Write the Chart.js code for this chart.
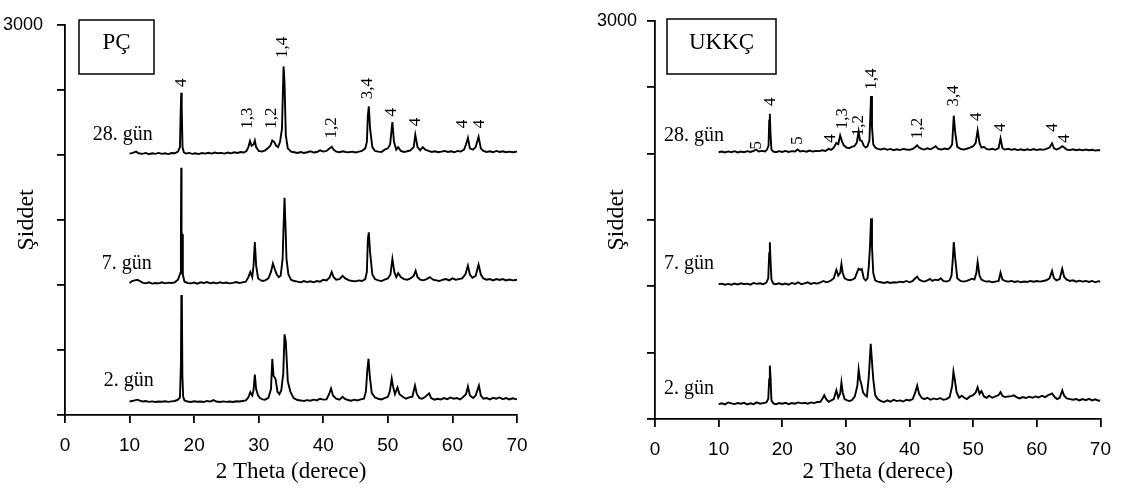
<!DOCTYPE html>
<html><head><meta charset="utf-8">
<script src="https://cdn.jsdelivr.net/npm/chart.js@4.4.1/dist/chart.umd.min.js"></script>
<style>
html,body{margin:0;padding:0;background:#fff;}
#wrap{position:relative;width:1122px;height:493px;overflow:hidden;}
canvas{position:absolute;top:0;}
#c1{left:0}
#c2{left:561px}
</style></head><body>
<div id="wrap"><canvas id="c1" width="561" height="493"></canvas><canvas id="c2" width="561" height="493"></canvas></div>
<script>
// ---- axis & labels ----
const xMin = 0, xMax = 70, xStep = 10;
const yMin = 0, yMax = 3000, yStep = 500;
const yLabelled = [3000];
const xTitle = '2 Theta (derece)';
const yTitle = 'Şiddet';
const panelNames = ['PÇ', 'UKKÇ'];
const dayNames = ['2. gün', '7. gün', '28. gün'];

// ---- PÇ traces [2θ, intensity] ----
const pc2 = [[10,104],[10.4,108],[10.8,112],[11.2,118],[11.6,110],[12,104],[12.5,107],[13,101],[13.5,105],[14,100],[14.5,104],[15,102],[15.5,106],[16,101],[16.5,105],[17,108],[17.5,118],[17.8,135],[17.95,380],[18.02,922],[18.1,880],[18.18,300],[18.3,140],[18.5,112],[19,104],[19.5,100],[20,106],[20.5,102],[21,104],[21.5,100],[22,108],[22.5,103],[23,115],[23.4,104],[24,100],[24.5,105],[25,101],[25.5,104],[26,100],[26.5,106],[27,104],[27.5,108],[28,112],[28.4,135],[28.7,175],[29,150],[29.2,190],[29.4,310],[29.6,200],[29.9,150],[30.2,130],[30.6,120],[31,118],[31.5,132],[31.9,200],[32.1,431],[32.3,300],[32.6,280],[32.9,180],[33.2,160],[33.5,190],[33.8,320],[34.0,620],[34.2,560],[34.5,260],[34.9,180],[35.4,130],[36,115],[36.5,112],[37,108],[37.5,114],[38,110],[38.5,118],[39,112],[39.5,125],[40,118],[40.5,120],[40.9,160],[41.2,204],[41.5,150],[42,125],[42.5,118],[43,140],[43.3,125],[43.8,115],[44.3,110],[44.8,118],[45.3,112],[45.8,120],[46.3,125],[46.6,180],[46.8,333],[47.0,431],[47.2,300],[47.5,170],[48,135],[48.5,125],[49,120],[49.5,130],[50,140],[50.3,180],[50.6,280],[50.8,220],[51.1,160],[51.5,212],[51.8,160],[52.3,140],[52.8,125],[53.3,135],[53.8,140],[54.2,227],[54.5,160],[54.9,130],[55.3,125],[55.8,140],[56.4,166],[56.7,130],[57.2,118],[57.7,125],[58.2,120],[58.7,130],[59.2,122],[59.7,135],[60.2,125],[60.7,130],[61.2,120],[61.7,140],[62.1,160],[62.4,219],[62.7,150],[63.2,130],[63.6,150],[64.1,227],[64.4,150],[64.8,125],[65.3,130],[65.8,120],[66.3,132],[66.8,125],[67.3,135],[67.8,122],[68.3,130],[68.8,120],[69.3,128],[70,120]];
const pc7 = [[10,1015],[10.4,1030],[10.8,1035],[11.2,1040],[11.6,1030],[12,1018],[12.5,1012],[13,1020],[13.5,1010],[14,1015],[14.5,1012],[15,1020],[15.5,1012],[16,1018],[16.5,1015],[17,1020],[17.5,1040],[17.85,1090],[17.95,1400],[18.0,1900],[18.05,1400],[18.15,1390],[18.25,1080],[18.5,1025],[19,1015],[19.5,1012],[20,1018],[20.5,1010],[21,1020],[21.5,1015],[22,1022],[22.5,1012],[23,1018],[23.5,1012],[24,1020],[24.5,1014],[25,1018],[25.5,1012],[26,1016],[26.5,1022],[27,1015],[27.5,1020],[28,1025],[28.4,1060],[28.7,1100],[29,1060],[29.2,1150],[29.4,1330],[29.6,1150],[29.9,1050],[30.2,1040],[30.6,1030],[31,1035],[31.5,1050],[31.9,1100],[32.2,1165],[32.5,1120],[32.8,1080],[33.1,1060],[33.4,1070],[33.7,1200],[33.85,1450],[34.0,1670],[34.15,1450],[34.3,1200],[34.6,1080],[35,1040],[35.5,1030],[36,1025],[36.5,1020],[37,1030],[37.5,1022],[38,1028],[38.5,1020],[39,1030],[39.5,1025],[40,1040],[40.5,1035],[41,1060],[41.3,1100],[41.6,1060],[42,1040],[42.5,1045],[43,1070],[43.4,1050],[44,1035],[44.5,1030],[45,1028],[45.5,1035],[46,1030],[46.5,1045],[46.75,1100],[46.9,1350],[47.05,1405],[47.25,1250],[47.6,1080],[48,1045],[48.5,1035],[49,1030],[49.5,1040],[50,1050],[50.4,1080],[50.7,1200],[51,1100],[51.3,1060],[51.6,1090],[52,1060],[52.5,1045],[53,1040],[53.5,1050],[54,1070],[54.3,1110],[54.6,1060],[55,1040],[55.5,1035],[56,1045],[56.5,1060],[57,1040],[57.5,1035],[58,1030],[58.5,1040],[59,1045],[59.5,1035],[60,1050],[60.5,1040],[61,1045],[61.5,1050],[62,1080],[62.4,1149],[62.7,1080],[63.1,1055],[63.6,1070],[64.05,1157],[64.4,1080],[64.8,1050],[65.3,1040],[65.8,1045],[66.3,1035],[66.8,1045],[67.3,1038],[67.8,1045],[68.3,1035],[68.8,1042],[69.4,1035],[70,1040]];
const pc28 = [[10,2010],[10.5,2015],[11,2025],[11.4,2012],[12,2008],[12.5,2015],[13,2005],[13.5,2012],[14,2008],[14.5,2015],[15,2008],[15.5,2012],[16,2006],[16.5,2014],[17,2012],[17.5,2025],[17.8,2060],[17.92,2340],[18.0,2478],[18.08,2350],[18.2,2060],[18.4,2020],[18.7,2010],[19.2,2015],[19.7,2008],[20.2,2012],[20.7,2006],[21.2,2014],[21.7,2010],[22.2,2016],[22.7,2010],[23.2,2018],[23.7,2012],[24.2,2015],[24.7,2010],[25.2,2018],[25.7,2012],[26.2,2020],[26.7,2015],[27.2,2022],[27.7,2018],[28.1,2030],[28.4,2060],[28.65,2106],[28.9,2070],[29.2,2080],[29.4,2110],[29.6,2060],[30,2030],[30.5,2025],[31,2035],[31.4,2050],[31.8,2070],[32.1,2110],[32.4,2100],[32.7,2070],[33.0,2060],[33.3,2100],[33.6,2200],[33.85,2680],[34.0,2550],[34.2,2150],[34.5,2050],[35,2025],[35.5,2020],[36,2015],[36.5,2022],[37,2015],[37.5,2020],[38,2028],[38.5,2018],[39,2022],[39.5,2035],[40,2025],[40.5,2030],[41,2050],[41.3,2063],[41.6,2040],[42,2025],[42.5,2020],[43,2028],[43.5,2022],[44,2020],[44.5,2025],[45,2018],[45.5,2025],[46,2030],[46.5,2050],[46.75,2100],[46.9,2300],[47.05,2373],[47.25,2200],[47.6,2060],[48,2030],[48.5,2025],[49,2022],[49.5,2040],[50,2050],[50.35,2080],[50.7,2252],[50.95,2100],[51.3,2040],[51.6,2060],[52,2030],[52.5,2022],[53,2028],[53.5,2035],[54,2060],[54.25,2154],[54.6,2060],[55,2035],[55.4,2060],[55.8,2040],[56.3,2030],[56.8,2022],[57.3,2028],[57.8,2020],[58.3,2025],[58.8,2030],[59.3,2022],[59.8,2028],[60.3,2020],[60.8,2030],[61.3,2025],[61.8,2040],[62.1,2080],[62.4,2131],[62.7,2050],[63.2,2040],[63.6,2060],[64.05,2138],[64.4,2050],[64.8,2030],[65.3,2022],[65.8,2028],[66.3,2020],[66.8,2030],[67.3,2022],[67.8,2028],[68.3,2020],[68.8,2025],[69.4,2020],[70,2025]];

// ---- UKKÇ traces [2θ, intensity] ----
const uk2 = [[10,112],[10.5,118],[11,110],[11.5,125],[12,118],[12.5,112],[13,120],[13.5,115],[14,122],[14.5,110],[15,118],[15.5,112],[16,125],[16.5,115],[17,120],[17.5,125],[17.8,150],[17.95,300],[18.05,402],[18.15,320],[18.3,140],[18.6,118],[19,112],[19.5,120],[20,115],[20.5,122],[21,112],[21.5,120],[22,115],[22.5,125],[23,118],[23.5,122],[24,115],[24.5,125],[25,120],[25.5,128],[26,130],[26.4,160],[26.6,179],[26.9,150],[27.3,130],[27.7,140],[28.1,150],[28.5,216],[28.8,160],[29.1,190],[29.3,276],[29.5,200],[29.8,150],[30.2,140],[30.6,135],[31,145],[31.4,170],[31.8,250],[32.0,372],[32.2,300],[32.4,268],[32.7,200],[33,180],[33.3,170],[33.6,320],[33.9,567],[34.1,430],[34.3,300],[34.6,180],[35,150],[35.5,135],[36,128],[36.5,140],[37,130],[37.5,145],[38,135],[38.5,140],[39,132],[39.5,145],[40,140],[40.5,150],[40.9,200],[41.2,252],[41.5,190],[41.9,160],[42.3,150],[42.8,160],[43.3,145],[43.8,155],[44.3,148],[44.8,158],[45.3,145],[45.8,150],[46.3,165],[46.7,250],[46.9,357],[47.1,300],[47.4,200],[47.8,160],[48.2,175],[48.6,160],[49.0,150],[49.5,170],[50,180],[50.4,200],[50.7,239],[51,190],[51.3,210],[51.7,170],[52.1,160],[52.5,175],[53,160],[53.5,170],[54,180],[54.3,202],[54.6,175],[55,165],[55.5,170],[56,172],[56.4,179],[56.8,165],[57.3,155],[57.8,165],[58.3,158],[58.8,168],[59.3,160],[59.8,170],[60.3,162],[60.8,175],[61.3,165],[61.8,180],[62.1,185],[62.4,192],[62.8,165],[63.2,150],[63.6,160],[64.0,216],[64.3,175],[64.7,155],[65.2,150],[65.7,145],[66.2,150],[66.7,140],[67.2,150],[67.7,142],[68.2,152],[68.7,140],[69.2,148],[69.7,138],[70,140]];
const uk7 = [[10,1015],[10.5,1020],[11,1012],[11.5,1018],[12,1012],[12.5,1020],[13,1014],[13.5,1022],[14,1015],[14.5,1020],[15,1012],[15.5,1025],[16,1018],[16.5,1022],[17,1015],[17.5,1028],[17.8,1060],[17.95,1250],[18.05,1332],[18.15,1200],[18.3,1050],[18.6,1020],[19,1015],[19.5,1022],[20,1014],[20.5,1020],[21,1012],[21.5,1025],[22,1018],[22.5,1030],[23,1015],[23.5,1022],[24,1030],[24.5,1018],[25,1025],[25.5,1020],[26,1030],[26.5,1040],[26.9,1030],[27.3,1035],[27.7,1045],[28.1,1060],[28.5,1124],[28.8,1080],[29.1,1100],[29.3,1168],[29.5,1100],[29.8,1060],[30.2,1050],[30.6,1045],[31,1050],[31.4,1060],[31.8,1110],[32.0,1132],[32.2,1125],[32.5,1130],[32.8,1060],[33.1,1045],[33.4,1060],[33.6,1150],[33.8,1310],[33.95,1512],[34.1,1300],[34.3,1100],[34.6,1045],[35,1035],[35.5,1030],[36,1025],[36.5,1032],[37,1025],[37.5,1030],[38,1028],[38.5,1035],[39,1030],[39.5,1040],[40,1030],[40.5,1040],[40.9,1060],[41.2,1072],[41.5,1050],[41.9,1040],[42.3,1035],[42.8,1045],[43.2,1055],[43.6,1040],[44,1050],[44.5,1045],[44.9,1060],[45.3,1040],[45.8,1035],[46.3,1045],[46.6,1080],[46.8,1205],[46.95,1332],[47.2,1200],[47.5,1060],[48,1040],[48.5,1035],[49,1040],[49.5,1050],[49.8,1057],[50.2,1050],[50.5,1100],[50.7,1183],[51,1080],[51.3,1050],[51.7,1040],[52.1,1035],[52.5,1038],[53,1030],[53.5,1035],[54,1040],[54.3,1102],[54.6,1050],[55,1040],[55.5,1035],[56,1040],[56.5,1032],[57,1038],[57.5,1030],[58,1036],[58.5,1032],[59,1040],[59.5,1034],[60,1040],[60.5,1035],[61,1040],[61.5,1045],[62,1060],[62.4,1116],[62.7,1060],[63.1,1045],[63.6,1055],[64.0,1131],[64.3,1070],[64.7,1050],[65.2,1040],[65.7,1045],[66.2,1035],[66.7,1042],[67.2,1035],[67.7,1040],[68.2,1032],[68.7,1040],[69.2,1030],[69.7,1038],[70,1035]];
const uk28 = [[10,2010],[10.5,2015],[11,2008],[11.5,2016],[12,2010],[12.5,2018],[13,2008],[13.5,2015],[14,2010],[14.5,2018],[15,2012],[15.5,2020],[15.9,2030],[16.3,2015],[16.8,2020],[17.3,2015],[17.6,2030],[17.85,2060],[17.95,2250],[18.05,2300],[18.15,2150],[18.3,2030],[18.6,2015],[19,2010],[19.5,2018],[20,2012],[20.5,2020],[21,2012],[21.5,2018],[22,2015],[22.4,2030],[22.8,2015],[23.3,2020],[23.8,2014],[24.3,2022],[24.8,2015],[25.3,2020],[25.8,2018],[26.3,2025],[26.8,2020],[27.3,2035],[27.7,2028],[28.1,2045],[28.5,2080],[28.8,2070],[29.1,2136],[29.4,2090],[29.7,2060],[30.1,2045],[30.5,2040],[30.9,2050],[31.3,2055],[31.7,2080],[32.0,2166],[32.2,2100],[32.5,2095],[32.8,2060],[33.1,2045],[33.4,2055],[33.7,2100],[33.95,2434],[34.1,2200],[34.3,2070],[34.6,2045],[35,2035],[35.5,2030],[36,2038],[36.5,2028],[37,2035],[37.5,2025],[38,2032],[38.5,2026],[39,2035],[39.5,2030],[40,2028],[40.5,2035],[40.9,2050],[41.2,2062],[41.5,2045],[41.9,2035],[42.3,2030],[42.8,2040],[43.3,2032],[43.8,2045],[44.1,2055],[44.5,2035],[45,2030],[45.5,2038],[46,2032],[46.4,2045],[46.7,2070],[46.95,2285],[47.2,2150],[47.5,2050],[48,2035],[48.5,2030],[49,2036],[49.5,2045],[50,2055],[50.4,2080],[50.7,2174],[51,2080],[51.3,2045],[51.7,2050],[52.1,2035],[52.5,2030],[53,2036],[53.5,2028],[54,2040],[54.3,2114],[54.6,2040],[55,2030],[55.5,2036],[56,2028],[56.5,2034],[57,2026],[57.5,2032],[58,2025],[58.5,2032],[59,2026],[59.5,2034],[60,2026],[60.5,2032],[61,2028],[61.5,2035],[62,2045],[62.4,2077],[62.7,2040],[63.1,2030],[63.6,2040],[64.0,2055],[64.3,2045],[64.7,2030],[65.2,2026],[65.7,2032],[66.2,2025],[66.7,2030],[67.2,2024],[67.7,2030],[68.2,2025],[68.7,2028],[69.2,2022],[69.7,2026],[70,2024]];

// ---- peak phase labels [text, 2θ, intensity] ----
const pcPeaks = [['4',18.0,2554],['1,3',28.3,2282],['1,2',32.0,2282],['1,4',33.7,2826],['1,2',41.3,2207],['3,4',46.9,2509],['4',50.6,2328],['4',54.3,2252],['4',61.5,2237],['4',64.2,2237]];
const ukPeaks = [['5',15.9,2062],['4',18.1,2390],['5',22.4,2099],['4',27.6,2114],['1,3',29.4,2263],['1,2',32.0,2211],['1,4',34.1,2561],['1,2',41.3,2189],['3,4',46.9,2434],['4',50.6,2278],['4',54.3,2196],['4',62.4,2196],['4',64.4,2114]];
// day label anchors (left end) [2θ, intensity]
const pcDayAnchors = [[6.0,264],[5.7,1164],[4.3,2154]];
const ukDayAnchors = [[1.4,231],[1.4,1169],[1.4,2136]];

const annotPlugin = {
  id: 'annot',
  afterDatasetsDraw(chart, args, o) {
    const ctx = chart.ctx, xs = chart.scales.x, ys = chart.scales.y;
    ctx.save();
    ctx.fillStyle = '#000';
    ctx.strokeStyle = '#000';
    ctx.lineWidth = 1.5;
    ctx.strokeRect(o.box[0], o.box[1], o.box[2], o.box[3]);
    ctx.font = '23px "Liberation Serif"';
    ctx.textAlign = 'center';
    ctx.textBaseline = 'middle';
    ctx.fillText(o.name, o.box[0] + o.box[2] / 2, o.box[1] + o.box[3] / 2 - 4);
    ctx.font = '20px "Liberation Serif"';
    ctx.textAlign = 'left';
    o.days.forEach((a, i) => ctx.fillText(dayNames[i], xs.getPixelForValue(a[0]), ys.getPixelForValue(a[1])));
    ctx.font = '17px "Liberation Serif"';
    ctx.textAlign = 'center';
    o.peaks.forEach(p => {
      ctx.save();
      ctx.translate(xs.getPixelForValue(p[1]), ys.getPixelForValue(p[2]));
      ctx.rotate(-Math.PI / 2);
      ctx.fillText(p[0], 0, 0);
      ctx.restore();
    });
    ctx.restore();
  }
};

function makeChart(id, traces, cfg) {
  return new Chart(document.getElementById(id), {
    type: 'line',
    data: {
      datasets: traces.map(t => ({
        data: t, borderColor: '#000', borderWidth: 1.9, pointRadius: 0, tension: 0, fill: false
      }))
    },
    options: {
      responsive: false, animation: false, devicePixelRatio: 1,
      layout: { padding: { left: 0, right: cfg.padRight, top: cfg.padTop, bottom: 0 } },
      plugins: { legend: { display: false }, tooltip: { enabled: false },
        annot: { box: cfg.box, name: cfg.name, days: cfg.days, peaks: cfg.peaks } },
      scales: {
        x: {
          type: 'linear', min: xMin, max: xMax,
          afterFit: s => { s.height = cfg.xHeight; },
          ticks: { stepSize: xStep, color: '#000', padding: 11, font: { family: 'Liberation Sans', size: 19 } },
          grid: { drawOnChartArea: false, drawTicks: true, tickLength: 8, color: '#000', lineWidth: 1.8 },
          border: { color: '#000', width: 1.8 },
          title: { display: true, text: xTitle, color: '#000', font: { family: 'Liberation Serif', size: 23 }, padding: { top: 0, bottom: 7 } }
        },
        y: {
          type: 'linear', min: yMin, max: yMax,
          afterFit: s => { s.width = cfg.yWidth; },
          ticks: { stepSize: yStep, autoSkip: false, color: '#000', padding: cfg.yTickPad, font: { family: 'Liberation Sans', size: 18 },
            callback: v => yLabelled.includes(v) ? String(v) : '' },
          grid: { drawOnChartArea: false, drawTicks: true, tickLength: 8, color: '#000', lineWidth: 1.8 },
          border: { color: '#000', width: 1.8 },
          title: { display: true, text: yTitle, color: '#000', font: { family: 'Liberation Serif', size: 24 }, padding: { top: cfg.yTitlePad, bottom: 0 } }
        }
      }
    },
    plugins: [annotPlugin]
  });
}

makeChart('c1', [pc2, pc7, pc28], {
  padRight: 44, padTop: 18, xHeight: 78, yWidth: 65, yTickPad: 14, yTitlePad: 12,
  box: [79, 20, 75, 54], name: panelNames[0], days: pcDayAnchors, peaks: pcPeaks
});
makeChart('c2', [uk2, uk7, uk28], {
  padRight: 15, padTop: 16, xHeight: 74, yWidth: 94, yTickPad: 10, yTitlePad: 41,
  box: [106, 19, 109, 55], name: panelNames[1], days: ukDayAnchors, peaks: ukPeaks
});
</script>
</body></html>
